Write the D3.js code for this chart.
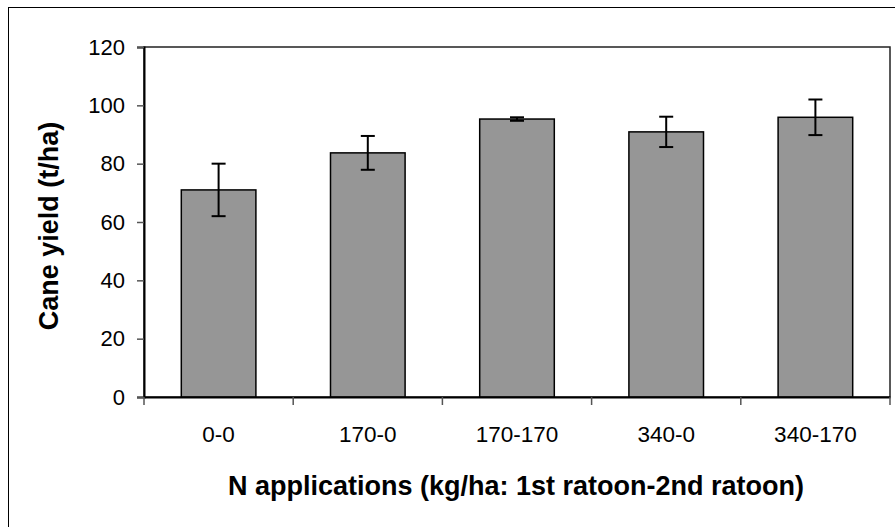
<!DOCTYPE html>
<html><head><meta charset="utf-8">
<script src="https://cdn.jsdelivr.net/npm/d3@7"></script>
<style>body{margin:0;background:#fff}svg{display:block}</style>
</head><body>
<svg id="c" width="895" height="527"></svg>
<script>
const categories = ["0-0","170-0","170-170","340-0","340-170"];
const yieldMean = [71, 83.7, 95.3, 90.9, 95.9];
const yieldErr = [9, 5.8, 0.6, 5.2, 6.1];
const yTicks = [0,20,40,60,80,100,120];

const FONT = "Arial, 'Liberation Sans', sans-serif";
const svg = d3.select("#c");
const m = {l:144, r:890, t:47, b:397};
const x = d3.scaleBand().domain(categories).range([m.l, m.r]).paddingInner(0.5).paddingOuter(0.25);
const y = d3.scaleLinear().domain([0,120]).range([m.b, m.t]);

// outer frame
svg.append("rect").attr("x",8.5).attr("y",7.5).attr("width",900).attr("height",540)
  .attr("fill","none").attr("stroke","#000").attr("stroke-width",1);

// plot area
svg.append("rect").attr("x",m.l).attr("y",m.t).attr("width",m.r-m.l).attr("height",m.b-m.t)
  .attr("fill","#fff").attr("stroke","#222").attr("stroke-width",1.5);

// bars
svg.append("g").selectAll("rect").data(categories).join("rect")
  .attr("x",d=>x(d)).attr("width",x.bandwidth())
  .attr("y",(d,i)=>y(yieldMean[i])).attr("height",(d,i)=>y(0)-y(yieldMean[i]))
  .attr("fill","#969696").attr("stroke","#000").attr("stroke-width",1.5);

// error bars
const eg = svg.append("g").attr("stroke","#000").attr("stroke-width",2);
categories.forEach((c,i)=>{
  const cx = x(c)+x.bandwidth()/2;
  const hi = y(yieldMean[i]+yieldErr[i]), lo = y(yieldMean[i]-yieldErr[i]);
  eg.append("line").attr("x1",cx).attr("x2",cx).attr("y1",hi).attr("y2",lo);
  eg.append("line").attr("x1",cx-7).attr("x2",cx+7).attr("y1",hi).attr("y2",hi);
  eg.append("line").attr("x1",cx-7).attr("x2",cx+7).attr("y1",lo).attr("y2",lo);
});

// y axis
const ya = svg.append("g").attr("transform",`translate(${m.l},0)`)
  .call(d3.axisLeft(y).tickValues(yTicks).tickSize(7).tickPadding(12));
ya.select(".domain").attr("stroke","#000").attr("stroke-width",2);
ya.selectAll(".tick line").attr("stroke","#555").attr("stroke-width",1.5);
ya.selectAll("text").attr("font-family",FONT).attr("font-size",22).attr("fill","#000");

// x axis
const xa = svg.append("g").attr("transform",`translate(0,${m.b})`)
  .call(d3.axisBottom(x).tickSize(0).tickPadding(29));
xa.select(".domain").attr("stroke","#000").attr("stroke-width",2);
xa.selectAll("text").attr("font-family",FONT).attr("font-size",22.5).attr("fill","#000");
// category boundary ticks
const bounds = categories.map(c=>x(c)-x.step()*0.25).concat([m.r]);
svg.append("g").selectAll("line").data(bounds).join("line")
  .attr("x1",d=>d).attr("x2",d=>d).attr("y1",m.b).attr("y2",m.b+8)
  .attr("stroke","#555").attr("stroke-width",1.5);

// titles
svg.append("text").attr("x",516).attr("y",495).attr("text-anchor","middle")
  .attr("font-family",FONT).attr("font-weight","bold").attr("font-size",27)
  .text("N applications (kg/ha: 1st ratoon-2nd ratoon)");
svg.append("text").attr("transform","translate(58,226) rotate(-90)").attr("text-anchor","middle")
  .attr("font-family",FONT).attr("font-weight","bold").attr("font-size",27)
  .text("Cane yield (t/ha)");
</script>
</body></html>
